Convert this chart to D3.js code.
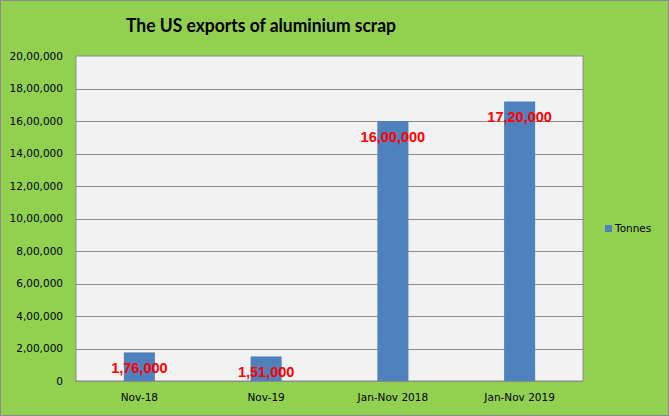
<!DOCTYPE html>
<html>
<head>
<meta charset="utf-8">
<script src="https://cdn.jsdelivr.net/npm/d3@7"></script>
<style>
  body { margin: 0; background: #fff; }
  svg { display: block; }
</style>
</head>
<body>
<div id="chart"></div>
<script>
// data
var categories = ["Nov-18", "Nov-19", "Jan-Nov 2018", "Jan-Nov 2019"];
var tonnes = [176000, 151000, 1600000, 1720000];
var yTicks = [0, 200000, 400000, 600000, 800000, 1000000, 1200000, 1400000, 1600000, 1800000, 2000000];
var seriesName = "Tonnes";
var title = "The US exports of aluminium scrap";

var W = 669, H = 416;
var plot = {left: 76, top: 56, right: 583, bottom: 381};

// indian digit grouping, 20,00,000 style
var indian = d3.formatLocale({decimal: ".", thousands: ",", grouping: [3, 2, 2, 2, 2, 2], currency: ["", ""]});
var fmt = indian.format(",d");

var svg = d3.select("#chart")
	.append("svg")
		.attr("width", W)
		.attr("height", H);

// chart background + border
svg.append("rect")
	.attr("x", 0.5).attr("y", 0.5)
	.attr("width", W - 1).attr("height", H - 1)
	.attr("fill", "#92D050")
	.attr("stroke", "#8c8c8c");

// title
svg.append("text")
	.attr("x", 261)
	.attr("y", 32)
	.attr("text-anchor", "middle")
	.attr("font-family", "Lato, 'Open Sans', sans-serif")
	.attr("font-weight", "bold")
	.attr("font-size", 19.5)
	.attr("textLength", 270)
	.attr("lengthAdjust", "spacingAndGlyphs")
	.attr("fill", "#000")
	.text(title);

var x = d3.scaleBand()
	.domain(categories)
	.range([plot.left, plot.right])
	.paddingInner(0.755)
	.paddingOuter(0.3775);

var y = d3.scaleLinear()
	.domain([0, 2000000])
	.range([plot.bottom, plot.top]);

// plot area
svg.append("rect")
	.attr("x", plot.left).attr("y", plot.top)
	.attr("width", plot.right - plot.left)
	.attr("height", plot.bottom - plot.top)
	.attr("fill", "#F2F2F2")
	.attr("stroke", "#8c8c8c");

// gridlines
svg.append("g")
	.selectAll("line")
	.data(yTicks.slice(1, -1))
	.enter().append("line")
		.attr("x1", plot.left).attr("x2", plot.right)
		.attr("y1", function(d) { return Math.round(y(d)) + 0.5; })
		.attr("y2", function(d) { return Math.round(y(d)) + 0.5; })
		.attr("stroke", "#8c8c8c");

// y axis labels
var yAxis = svg.append("g")
	.attr("transform", "translate(" + plot.left + ",0)")
	.call(d3.axisLeft(y).tickValues(yTicks).tickFormat(fmt).tickSize(0).tickPadding(13));
yAxis.select(".domain").remove();
yAxis.selectAll("text")
	.attr("font-family", "'DejaVu Sans', sans-serif")
	.attr("font-size", 10.5)
	.attr("fill", "#000");

// x axis labels
var xAxis = svg.append("g")
	.attr("transform", "translate(0," + plot.bottom + ")")
	.call(d3.axisBottom(x).tickSize(0).tickPadding(13));
xAxis.select(".domain").remove();
xAxis.selectAll("text")
	.attr("font-family", "'DejaVu Sans', sans-serif")
	.attr("font-size", 10.5)
	.attr("fill", "#000");

// bars
svg.append("g")
	.selectAll("rect")
	.data(tonnes)
	.enter().append("rect")
		.attr("x", function(d, i) { return x(categories[i]); })
		.attr("y", function(d) { return y(d); })
		.attr("width", x.bandwidth())
		.attr("height", function(d) { return plot.bottom - y(d); })
		.attr("fill", "#4F81BD");

// redraw bottom edge on top of bars
svg.append("line")
	.attr("x1", plot.left).attr("x2", plot.right)
	.attr("y1", plot.bottom + 0.5).attr("y2", plot.bottom + 0.5)
	.attr("stroke", "#8c8c8c");

// value labels
svg.append("g")
	.selectAll("text")
	.data(tonnes)
	.enter().append("text")
		.attr("x", function(d, i) { return x(categories[i]) + x.bandwidth() / 2; })
		.attr("y", function(d) { return y(d) + 15.5; })
		.attr("dy", "0.35em")
		.attr("text-anchor", "middle")
		.attr("font-family", "'Liberation Sans', Arial, sans-serif")
		.attr("font-weight", "bold")
		.attr("font-size", 14.5)
		.attr("fill", "#FF0000")
		.text(function(d) { return fmt(d); });

// legend
var legend = svg.append("g").attr("transform", "translate(605,225)");
legend.append("rect")
	.attr("width", 7).attr("height", 7)
	.attr("fill", "#4F81BD");
legend.append("text")
	.attr("x", 10).attr("y", 3.5)
	.attr("dy", "0.35em")
	.attr("font-family", "'DejaVu Sans', sans-serif")
	.attr("font-size", 10.5)
	.attr("fill", "#000")
	.text(seriesName);
</script>
</body>
</html>
